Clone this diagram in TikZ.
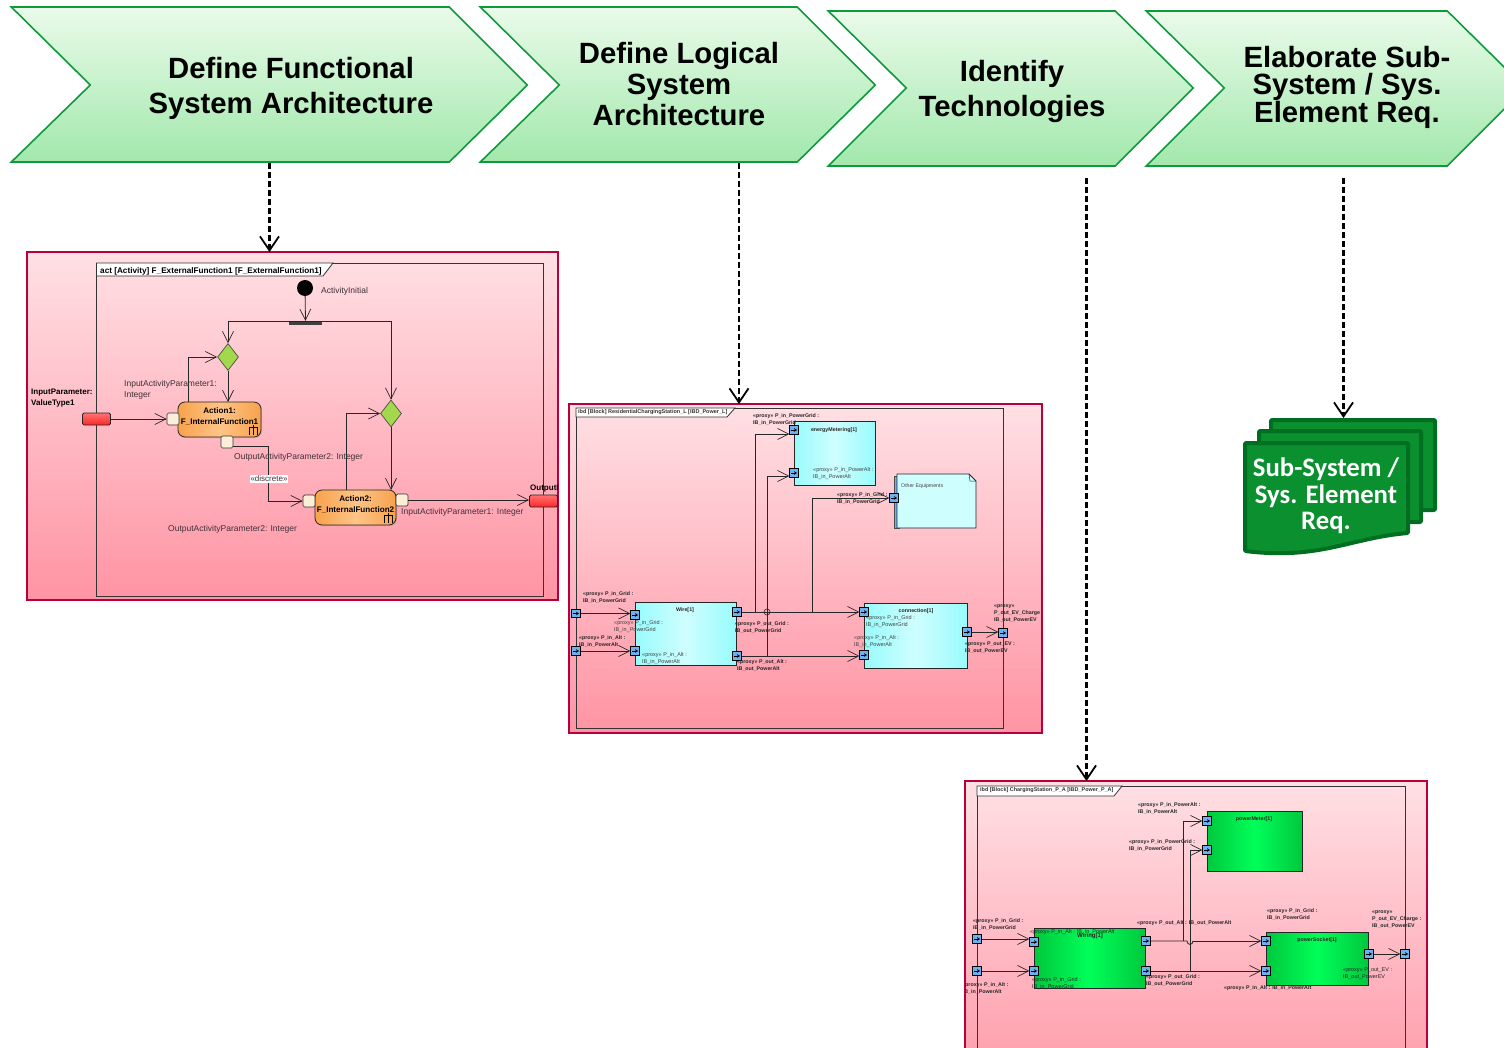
\documentclass[tikz,border=0pt]{standalone}
\usepackage{fontspec}
\setmainfont{Liberation Sans}
\newfontfamily\docfont{Carlito}
\usetikzlibrary{arrows.meta,shapes.geometric,shadows}
\definecolor{panelred}{HTML}{B8003C}
\definecolor{pinktop}{HTML}{FFE0E4}
\definecolor{pinkbot}{HTML}{FF94A4}
\definecolor{chevline}{HTML}{0E9A3C}
\definecolor{chevtop}{HTML}{EAFBEA}
\definecolor{chevbot}{HTML}{A2E8AC}
\definecolor{portblue}{HTML}{6CB2F2}
\definecolor{docgreen}{HTML}{0B9030}
\definecolor{docline}{HTML}{006E20}
\definecolor{labelgray}{HTML}{403038}
\definecolor{cyanside}{HTML}{98FBFC}
\definecolor{cyanmid}{HTML}{CFFEFF}
\definecolor{greenside}{HTML}{00C83E}
\definecolor{greenmid}{HTML}{00FF58}
\definecolor{orangeside}{HTML}{F7A24C}
\definecolor{orangemid}{HTML}{FFC488}
\definecolor{diamondgreen}{HTML}{A4D84C}
\definecolor{pincream}{HTML}{FBEFD8}
\tikzset{x=1pt,y=-1pt,
	flow/.style={draw=black!85,line width=.8pt,-{Straight Barb[length=11pt,width=11pt,line width=.7pt]}},
	wire/.style={draw=black!85,line width=.8pt},
	dasharrow/.style={draw=black,line width=2.2pt,dash pattern=on 6pt off 3pt,-{Straight Barb[length=14pt,width=19pt,line width=1.8pt]}},
	chevron/.style={draw=chevline,line width=1.6pt,top color=chevtop,bottom color=chevbot,xshift=.3pt},
	chevtext/.style={align=center,text=black},
	panel/.style={draw=panelred,line width=1.8pt,top color=pinktop,bottom color=pinkbot,anchor=north west,inner sep=0pt,outer sep=0pt},
	frame/.style={draw=black!80,line width=.9pt,anchor=north west,inner sep=0pt,outer sep=0pt},
	tag/.style={draw=black!80,line width=.8pt,fill=white},
	tagtext/.style={anchor=west,inner sep=0pt},
	cyanblock/.style={draw=black!85,line width=.8pt,left color=cyanside,right color=cyanside,middle color=cyanmid,anchor=north west,inner sep=0pt,outer sep=0pt,drop shadow={shadow xshift=1pt,shadow yshift=-1pt,opacity=.3}},
	greenblock/.style={draw=black!85,line width=.8pt,left color=greenside,right color=greenside,middle color=greenmid,anchor=north west,inner sep=0pt,outer sep=0pt,drop shadow={shadow xshift=1pt,shadow yshift=-1pt,opacity=.3}},
	port/.style={draw=black,fill=portblue,line width=.8pt,minimum size=8.5pt,inner sep=0pt,
		path picture={\draw[black,line width=.8pt,-{Stealth[length=3pt,width=3.6pt]}] ([xshift=-3pt]path picture bounding box.center) -- ([xshift=3pt]path picture bounding box.center);}},
	plabel/.style={anchor=west,inner sep=0pt,align=left,font=\fontsize{5.3}{7}\bfseries,text=black!85},
	ilabel/.style={anchor=west,inner sep=0pt,align=left,font=\fontsize{5.5}{7}\selectfont,text=black!75},
	ptitle/.style={inner sep=0pt,font=\fontsize{5.3}{6}\bfseries,text=black!85},
	alabel/.style={anchor=west,inner sep=0pt,align=left,font=\fontsize{8.5}{11}\selectfont,text=labelgray},
	action/.style={draw=black!85,line width=.8pt,rounded corners=7pt,left color=orangeside,right color=orangeside,middle color=orangemid,anchor=north west,inner sep=0pt,outer sep=0pt,drop shadow={shadow xshift=1pt,shadow yshift=-1pt,opacity=.3}},
	actiontext/.style={inner sep=0pt,align=center,font=\fontsize{8.1}{11}\bfseries},
	pin/.style={draw=black!80,line width=.7pt,rounded corners=1.5pt,fill=pincream,minimum width=12pt,minimum height=12pt,inner sep=0pt},
	param/.style={draw=black!85,line width=.8pt,rounded corners=1.5pt,top color=red!55,bottom color=red!85,minimum width=28pt,minimum height=12pt,inner sep=0pt},
	decision/.style={diamond,draw=black!70,line width=.7pt,fill=diamondgreen,minimum width=21pt,minimum height=27pt,inner sep=0pt},
	sheet/.style={fill=docgreen,draw=docline,line width=4pt,rounded corners=1pt,line join=round},
}
\newcommand{\rake}[1]{\draw[black,line width=.6pt] (#1) ++(0,-5) -- ++(0,10) ++(-4,0) -- ++(0,-8) -- ++(8,0) -- ++(0,8);}
\begin{document}
\begin{tikzpicture}
	\useasboundingbox (0,0) rectangle (1504,1048);
	\clip (0,0) rectangle (1504,1048);
	%chevrons
	\draw[chevron] (11,7) -- (449,7) -- (527,85) -- (449,162) -- (11,162) -- (90,85) -- cycle;
	\draw[chevron] (480,7) -- (797,7) -- (875,85) -- (797,162) -- (480,162) -- (559,85) -- cycle;
	\draw[chevron] (828,11) -- (1115,11) -- (1193,88) -- (1115,166) -- (828,166) -- (906,88) -- cycle;
	\draw[chevron] (1146,11) -- (1447,11) -- (1525,88) -- (1447,166) -- (1146,166) -- (1224,88) -- cycle;
	\node[chevtext,font=\fontsize{29.3}{35}\bfseries] (stepFunc) at (291,88) {Define Functional\\System Architecture};
	\node[chevtext,font=\fontsize{29.3}{31}\bfseries] (stepLogic) at (679,84) {Define Logical\\System\\Architecture};
	\node[chevtext,font=\fontsize{29.3}{35}\bfseries] (stepTech) at (1012,91) {Identify\\Technologies};
	\node[chevtext,font=\fontsize{29.3}{26.5}\bfseries] (stepReq) at (1347,87.5) {Elaborate Sub-\\System / Sys.\\Element Req.};
	\coordinate (fromFunc) at (269.5,163);
	\coordinate (fromLogic) at (739,163);
	\coordinate (fromTech) at (1086.5,178);
	\coordinate (fromReq) at (1343.5,178);

	%activity panel
	\node[panel,minimum width=531pt,minimum height=348pt] (panelAct) at (27,252) {};
	\node[frame,minimum width=447pt,minimum height=333pt] (frameAct) at (96.5,263) {};
	\draw[tag] (96.5,263) -- (333,263) -- (323,276) -- (96.5,276) -- cycle;
	\node[tagtext,font=\fontsize{8.2}{9}\bfseries] (tagAct) at (100,271) {act [Activity] F\_ExternalFunction1 [F\_ExternalFunction1]};
	\node[circle,fill=black,minimum size=16pt,inner sep=0pt] (init) at (305,288) {};
	\node[alabel] (initLbl) at (321,291) {ActivityInitial};
	\node[fill=black!75,minimum width=33pt,minimum height=4pt,inner sep=0pt] (fork) at (305.5,323) {};
	\node[decision] (decA) at (228,357) {};
	\node[decision] (decB) at (391,413.5) {};
	\node[action,minimum width=83pt,minimum height=35pt] (actionA) at (178,402) {};
	\node[action,minimum width=81pt,minimum height=35pt] (actionB) at (315,490) {};
	\node[actiontext] (actionAText) at (219.5,416.5) {Action1:\\F\_InternalFunction1};
	\node[actiontext] (actionBText) at (355.5,505) {Action2:\\F\_InternalFunction2};
	\node[pin] (pinAin) at (173,419) {};
	\node[pin] (pinAout) at (227,442) {};
	\node[pin] (pinBin) at (309,501) {};
	\node[pin] (pinBout) at (402,500) {};
	\node[param] (paramIn) at (96.5,419) {};
	\node[param] (paramOut) at (543.5,501) {};
	\rake{253,430}
	\rake{388,518}
	\coordinate (forkL) at (228,321);
	\coordinate (forkR) at (391,321);
	\coordinate (loopA) at (188,402);
	\coordinate (loopB) at (346,490);
	\coordinate (dropB) at (391,490);
	\coordinate (dropA) at (228,402);
	\draw[flow] (init) -- (fork.north);
	\draw[wire] (forkL) -- (forkR);
	\draw[flow] (forkL) -- (decA.north);
	\draw[flow] (forkR) -- (decB.north);
	\draw[flow] (decA.south) -- (dropA);
	\draw[flow] (decB.south) -- (dropB);
	\draw[flow] (loopA) |- (decA.west);
	\draw[flow] (loopB) |- (decB.west);
	\draw[flow] (paramIn.east) -- (pinAin.west);
	\draw[flow] (pinAout.east) ++(0,4) -- ++(35,0) |- (pinBin.west);
	\draw[flow] (pinBout.east) -- (pinBout.east -| paramOut.west);
	\node[inner sep=1pt,fill=white,font=\fontsize{8}{9}\selectfont,text=labelgray] (discrete) at (269,479) {«discrete»};
	\node[alabel,font=\fontsize{8}{11}\bfseries,text=black] (paramInLbl) at (31,398.5) {InputParameter:\\ValueType1};
	\node[alabel,font=\fontsize{8}{9}\bfseries,text=black] (paramOutLbl) at (530,489) {OutputI};
	\node[alabel] (lblInA) at (124,390) {InputActivityParameter1:\\Integer};
	\node[alabel] (lblOutA) at (234,457) {OutputActivityParameter2: Integer};
	\node[alabel] (lblOutB) at (168,529) {OutputActivityParameter2: Integer};
	\node[alabel] (lblInB) at (401,512) {InputActivityParameter1: Integer};

	%logical panel
	\node[panel,minimum width=473pt,minimum height=329pt] (panelLog) at (569,404) {};
	\node[frame,minimum width=427pt,minimum height=320pt] (frameLog) at (576,408) {};
	\draw[tag] (576,408) -- (735,408) -- (727,417) -- (576,417) -- cycle;
	\node[tagtext,font=\fontsize{5.5}{6}\bfseries,text=black!80] (tagLog) at (578,412.5) {ibd [Block] ResidentialChargingStation\_L [IBD\_Power\_L]};
	\node[cyanblock,minimum width=101pt,minimum height=63pt] (wireBlock) at (635,602) {};
	\node[cyanblock,minimum width=81pt,minimum height=64pt] (energyBlock) at (794,421) {};
	\node[cyanblock,minimum width=103pt,minimum height=65pt] (connBlock) at (864,603) {};
	\fill[portblue,draw=black!70,line width=.5pt] (894,476) rectangle (899,528);
	\draw[draw=black!85,line width=.8pt,fill=cyanmid] (897,474) -- (969,474) -- (976,481) -- (976,528) -- (897,528) -- cycle;
	\draw[black!85,line width=.5pt] (969,474) -- (970,481) -- (976,481);
	\node[port] (logInA) at (576,613.5) {};
	\node[port] (logInB) at (576,651) {};
	\node[port] (wireInA) at (635,615) {};
	\node[port] (wireInB) at (635,651) {};
	\node[port] (wireOutA) at (737,612) {};
	\node[port] (wireOutB) at (737,656) {};
	\node[port] (energyA) at (794,430) {};
	\node[port] (energyB) at (794,473) {};
	\node[port] (otherIn) at (894,498) {};
	\node[port] (connInA) at (864,612) {};
	\node[port] (connInB) at (864,655) {};
	\node[port] (connOut) at (967,632) {};
	\node[port] (logOut) at (1003,633) {};
	\coordinate (tapA) at (755,612);
	\coordinate (tapB) at (767,656);
	\coordinate (tapC) at (812,612);
	\draw[flow] (logInA.east) -- (logInA.east -| wireInA.west);
	\draw[flow] (logInB.east) -- (wireInB.west);
	\draw[flow] (wireOutA.east) -- (connInA.west);
	\draw[flow] (wireOutB.east) -- (wireOutB.east -| connInB.west);
	\draw[flow] (tapA) |- (energyA.west |- 0,434);
	\draw[flow] (tapB) |- (energyB.west |- 0,476);
	\draw[flow] (tapC) |- (otherIn.west);
	\draw[flow] (connOut.east) -- (connOut.east -| logOut.west);
	\node[circle,draw=black!85,line width=.6pt,minimum size=6pt,inner sep=0pt] (jumpLog) at (767,612) {};
	\node[ptitle] (wireTitle) at (685,610) {Wire[1]};
	\node[ptitle] (energyTitle) at (834,430) {energyMetering[1]};
	\node[ptitle] (connTitle) at (916,611) {connection[1]};
	\node[plabel] (l1) at (583,597) {«proxy» P\_in\_Grid  :\\IB\_in\_PowerGrid};
	\node[ilabel] (l2) at (614,627) {«proxy» P\_in\_Grid :\\IB\_in\_PowerGrid};
	\node[plabel] (l3) at (579,641) {«proxy» P\_in\_Alt  :\\IB\_in\_PowerAlt};
	\node[ilabel] (l4) at (642,659) {«proxy» P\_in\_Alt :\\IB\_in\_PowerAlt};
	\node[plabel] (l5) at (735,627) {«proxy» P\_out\_Grid :\\IB\_out\_PowerGrid};
	\node[plabel] (l6) at (737,665) {«proxy» P\_out\_Alt :\\IB\_out\_PowerAlt};
	\node[plabel] (l7) at (753,419) {«proxy» P\_in\_PowerGrid :\\IB\_in\_PowerGrid};
	\node[ilabel] (l8) at (813,474) {«proxy» P\_in\_PowerAlt :\\IB\_in\_PowerAlt};
	\node[plabel] (l9) at (837,498) {«proxy» P\_in\_Grid :\\IB\_in\_PowerGrid};
	\node[ilabel,font=\fontsize{5.2}{6}\selectfont] (l10) at (901,486) {Other Equipments};
	\node[ilabel] (l11) at (866,622) {«proxy» P\_in\_Grid :\\IB\_in\_PowerGrid};
	\node[ilabel] (l12) at (854,642) {«proxy» P\_in\_Alt :\\IB\_in\_PowerAlt};
	\node[plabel] (l13) at (994,613.5) {«proxy»\\P\_out\_EV\_Charge\\IB\_out\_PowerEV};
	\node[plabel] (l14) at (965,647) {«proxy» P\_out\_EV :\\IB\_out\_PowerEV};

	%physical panel
	\node[panel,minimum width=462pt,minimum height=330pt] (panelPhy) at (965,781) {};
	\node[frame,minimum width=428pt,minimum height=310pt] (framePhy) at (977,786) {};
	\draw[tag] (977,786) -- (1122,786) -- (1114,796) -- (977,796) -- cycle;
	\node[tagtext,font=\fontsize{5.45}{6}\bfseries,text=black!80] (tagPhy) at (980,790.5) {ibd [Block] ChargingStation\_P\_A [IBD\_Power\_P\_A]};
	\node[greenblock,minimum width=111pt,minimum height=60pt] (wiringBlock) at (1034,928) {};
	\node[greenblock,minimum width=95pt,minimum height=60pt] (meterBlock) at (1207,811) {};
	\node[greenblock,minimum width=102pt,minimum height=53pt] (socketBlock) at (1266,932) {};
	\node[port] (phyInA) at (977,939) {};
	\node[port] (phyInB) at (977,971) {};
	\node[port] (wiringInA) at (1034,942) {};
	\node[port] (wiringInB) at (1034,971) {};
	\node[port] (wiringOutA) at (1146,941) {};
	\node[port] (wiringOutB) at (1146,971) {};
	\node[port] (meterA) at (1207,821) {};
	\node[port] (meterB) at (1207,850) {};
	\node[port] (socketInA) at (1266,941) {};
	\node[port] (socketInB) at (1266,971) {};
	\node[port] (socketOut) at (1369,954) {};
	\node[port] (phyOut) at (1405,954) {};
	\coordinate (tapD) at (1183,941);
	\coordinate (tapE) at (1190,971);
	\coordinate (hopL) at (1187,941);
	\coordinate (hopR) at (1193,941);
	\draw[flow] (phyInA.east) -- (phyInA.east -| wiringInA.west);
	\draw[flow] (phyInB.east) -- (wiringInB.west);
	\draw[wire] (wiringOutA.east) -- (hopL) .. controls (1187,945.5) and (1193,945.5) .. (hopR);
	\draw[flow] (hopR) -- (socketInA.west);
	\draw[flow] (wiringOutB.east) -- (socketInB.west);
	\draw[flow] (tapD) |- (meterA.west);
	\draw[flow] (tapE) |- (meterB.west);
	\draw[flow] (socketOut.east) -- (phyOut.west);
	\node[ptitle,font=\fontsize{6}{6}\bfseries] (wiringTitle) at (1090,936) {Wiring[1]};
	\node[ptitle] (meterTitle) at (1254,819) {powerMeter[1]};
	\node[ptitle] (socketTitle) at (1317,940) {powerSocket[1]};
	\node[plabel] (m1) at (1138,808) {«proxy» P\_in\_PowerAlt :\\IB\_in\_PowerAlt};
	\node[plabel] (m2) at (1129,845) {«proxy» P\_in\_PowerGrid :\\IB\_in\_PowerGrid};
	\node[plabel] (m3) at (973,924) {«proxy» P\_in\_Grid :\\IB\_in\_PowerGrid};
	\node[ilabel,text=black!85] (m4) at (1030,932.5) {«proxy» P\_in\_Alt : IB\_in\_PowerAlt};
	\node[plabel] (m5) at (1137,923.5) {«proxy» P\_out\_Alt : IB\_out\_PowerAlt};
	\node[ilabel,text=black!85] (m6) at (1032,984) {«proxy» P\_in\_Grid :\\IB\_in\_PowerGrid};
	\node[plabel] (m7) at (965,988) {proxy» P\_in\_Alt :\\3\_in\_PowerAlt};
	\node[plabel] (m8) at (1146,980) {«proxy» P\_out\_Grid :\\IB\_out\_PowerGrid};
	\node[plabel] (m9) at (1267,914) {«proxy» P\_in\_Grid :\\IB\_in\_PowerGrid};
	\node[plabel] (m10) at (1372,919.5) {«proxy»\\P\_out\_EV\_Charge :\\IB\_out\_PowerEV};
	\node[ilabel,text=black!85] (m11) at (1343,974) {«proxy» P\_out\_EV :\\IB\_out\_PowerEV};
	\node[plabel] (m12) at (1224,988.5) {«proxy» P\_in\_Alt : IB\_in\_PowerAlt};

	%requirement sheets
	\draw[sheet] (1271,420) rectangle (1435,510);
	\draw[sheet] (1259,431) rectangle (1421,522);
	\draw[sheet] (1245,443) -- (1408,443) -- (1408,533) .. controls (1350,538) and (1320,560) .. (1245,551) -- cycle;
	\node[inner sep=0pt,align=center,text=white,font=\docfont\fontsize{26.7}{26.5}\bfseries] (reqText) at (1326,496) {Sub-System /\\Sys. Element\\Req.};

	%dashed links
	\coordinate (toFunc) at (269.5,252);
	\coordinate (toLogic) at (739,404);
	\coordinate (toTech) at (1086.5,781);
	\coordinate (toReq) at (1343.5,418);
	\draw[dasharrow] (fromFunc) -- (toFunc);
	\draw[dasharrow] (fromLogic) -- (toLogic);
	\draw[dasharrow] (fromTech) -- (toTech);
	\draw[dasharrow] (fromReq) -- (toReq);
\end{tikzpicture}
\end{document}
